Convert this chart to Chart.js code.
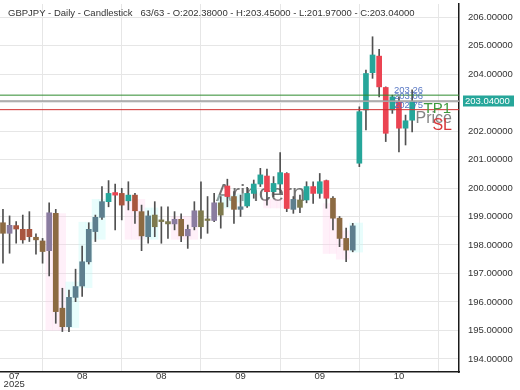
<!DOCTYPE html>
<html><head><meta charset="utf-8">
<script src="https://cdn.jsdelivr.net/npm/chart.js@4.4.1/dist/chart.umd.min.js"></script>
<style>html,body{margin:0;padding:0;background:#fff;overflow:hidden}</style>
</head><body>
<canvas id="c" width="520" height="390" style="width:520px;height:390px;display:block"></canvas>
<script>
// ---------- DATA ----------
const symbol = 'GBPJPY';
const highs  = [199.25,199.02,198.82,199.05,199.17,198.39,198.23,199.48,199.25,196.48,196.42,197.15,197.96,198.78,199.05,200.05,200.26,200.14,199.99,200.22,199.81,199.40,199.20,199.52,199.34,199.34,199.17,199.09,198.70,199.52,200.22,199.70,199.81,199.70,200.31,199.87,199.75,200.02,200.28,200.69,200.66,200.40,201.24,200.54,199.70,199.75,200.22,200.22,200.51,200.28,199.70,199.00,198.59,198.76,202.85,204.14,205.31,204.87,203.55,203.26,203.20,202.56,203.45];
const lows   = [197.36,197.71,198.06,198.06,198.12,197.68,197.36,196.91,195.25,194.96,194.96,196.01,196.19,197.33,198.12,198.90,199.34,198.53,198.88,199.23,198.76,197.80,198.06,198.29,198.06,198.23,198.53,198.12,197.88,198.53,198.23,198.41,198.82,198.59,199.34,198.76,199.00,199.32,199.64,200.05,199.40,199.70,199.81,199.17,199.11,199.13,199.48,199.46,199.64,199.29,198.53,197.94,197.41,197.76,200.75,202.04,203.85,203.20,201.63,202.62,201.27,201.51,201.97];
const opens  = [198.78,198.41,198.68,198.55,198.55,198.27,198.14,197.80,199.11,195.78,195.13,196.16,196.56,197.41,198.47,198.97,199.52,199.84,199.81,199.55,199.75,199.17,198.29,198.64,198.82,198.74,198.74,198.90,198.32,198.64,198.64,198.86,198.86,199.05,200.07,199.70,199.25,199.37,199.81,200.14,200.42,199.87,200.14,200.51,199.25,199.32,199.58,200.05,199.81,200.26,199.64,198.94,198.23,197.82,200.87,202.74,204.05,204.63,203.53,202.74,203.03,202.10,202.38];
const closes = [198.41,198.69,198.56,198.18,198.29,198.18,197.77,199.13,195.66,195.13,196.16,196.54,197.41,198.55,198.97,199.52,199.81,199.75,199.40,199.75,199.20,198.32,199.02,199.05,198.88,198.82,198.90,198.32,198.55,199.20,199.20,198.90,199.48,199.48,199.70,199.25,199.34,199.81,200.14,200.46,199.87,200.16,200.54,199.28,199.60,199.58,200.05,199.81,200.22,199.64,198.94,198.23,197.82,198.67,202.68,204.02,204.67,203.55,201.92,203.20,202.10,202.36,203.04];
// candle state per bar: G up, R down, B brown, D dark red, P purple, S slate, O olive
const states = ['B','P','D','D','D','B','B','P','B','B','S','S','S','S','S','S','G','R','D','G','D','B','S','O','O','O','P','B','P','P','O','O','P','O','R','B','S','G','G','G','R','G','G','R','S','O','G','R','G','R','B','B','B','S','G','G','G','R','R','G','R','G','G'];
// shaded zones: bar index, low, high, kind
const zoneIdx  = [7,8,9,10,11,12,13,14,15,19,20,21,22,23,26,27,28,29,33,34,35,36,37,40,41,42,43,49,50,51,52,53,54];
const zoneLow  = [195.0,195.0,195.0,195.1,195.1,196.5,196.5,198.2,198.2,198.2,198.2,198.2,198.2,198.2,198.2,198.2,198.2,198.2,199.3,199.3,199.3,199.5,199.5,199.3,199.3,199.3,199.3,197.7,197.7,197.5,197.5,197.75,197.75];
const zoneHigh = [199.1,199.1,199.1,196.7,196.7,198.8,198.8,199.6,199.6,199.6,199.6,199.6,199.3,199.3,199.0,199.0,199.0,199.0,199.75,199.75,199.75,199.8,199.8,199.6,199.6,199.6,199.6,199.45,199.45,198.5,198.5,198.77,198.77];
const zoneKind = ['p','p','p','c','c','c','c','c','c','p','p','p','c','c','p','p','p','p','c','c','c','c','c','p','p','p','p','p','p','p','p','c','c'];
// levels
const levelTP = 203.26, levelEntry = 203.06, levelSL = 202.75;
const levelLabels = ['203.26','203.06','202.75'];
// axes
const yTickVals = [194,195,196,197,198,199,200,201,202,203,204,205,206];
const xGridIdx = [0,12,24,36,48,60];
const xLabelIdx = [1.7,12,24,36,48,60];
const xLabels = [['07','2025'],'08','08','09','09','10'];
const X_MIN = -0.45, X_MAX = 69.1, Y_MIN = 193.54, Y_MAX = 206.46;

// ---------- STYLE ----------
const FONT = '"Liberation Sans", Arial, sans-serif';
const stateColors = {G:'#26a69a',R:'#eb4452',B:'#8c6a42',D:'#a8553f',P:'#8a7ca0',S:'#5d7f8e',O:'#7e7a4e'};
const zoneColors = {p:'rgba(255,200,235,0.28)',c:'rgba(195,250,248,0.38)'};

const n = opens.length;
const last = n - 1;
const titleText = `${symbol} - Daily - Candlestick   ${n}/${n} - O:${opens[last].toFixed(5)} - H:${highs[last].toFixed(5)} - L:${lows[last].toFixed(5)} - C:${closes[last].toFixed(5)}`;

const hLine = (v, color, w) => ({
  type:'line', data:[{x:X_MIN,y:v},{x:X_MAX,y:v}], borderColor:color, borderWidth:w,
  pointRadius:0, xAxisID:'x', yAxisID:'y', order:-1
});

const overlay = {
  id:'overlay',
  beforeDatasetsDraw(chart){
    const ctx = chart.ctx;
    ctx.save();
    ctx.font = '24px ' + FONT;
    ctx.fillStyle = 'rgba(80,80,80,0.8)';
    ctx.textBaseline = 'alphabetic';
    ctx.fillText('Arincern', 216, 201);
    ctx.restore();
  },
  afterDraw(chart){
    const ctx = chart.ctx, ys = chart.scales.y;
    ctx.save();
    ctx.font = '9.5px ' + FONT;
    ctx.fillStyle = '#333';
    ctx.textBaseline = 'alphabetic';
    ctx.fillText(titleText, 8, 15.5);
    // level value labels
    ctx.font = '9.5px ' + FONT;
    ctx.fillStyle = 'rgba(70,105,190,0.9)';
    [levelTP, levelEntry, levelSL].forEach((v,i)=>{
      ctx.fillText(levelLabels[i], 394, ys.getPixelForValue(v) - 2);
    });
    ctx.textAlign = 'right';
    ctx.font = '15px ' + FONT;
    ctx.fillStyle = '#3d9a3d';
    ctx.fillText('TP1', 451, 113);
    ctx.font = '16px ' + FONT;
    ctx.fillStyle = 'rgba(110,110,110,0.85)';
    ctx.fillText('Price', 452, 123);
    ctx.fillStyle = '#d8383a';
    ctx.fillText('SL', 452, 129.5);
    // price tag
    const py = ys.getPixelForValue(closes[last]);
    ctx.fillStyle = '#26a69a';
    ctx.fillRect(463, Math.round(py) - 5.5, 51, 11);
    ctx.fillStyle = '#fff';
    ctx.textAlign = 'left';
    ctx.textBaseline = 'middle';
    ctx.font = '9.5px ' + FONT;
    ctx.fillText(closes[last].toFixed(5), 465, Math.round(py) + 0.5);
    ctx.restore();
  }
};

new Chart(document.getElementById('c'), {
  type:'bar',
  data:{
    datasets:[
      hLine(levelTP, '#2e8b2e', 1),
      hLine(levelEntry, '#9a9a9a', 1),
      hLine(closes[last], '#b0b0b0', 1),
      hLine(levelSL, '#d03030', 1),
      { label:'body', data: opens.map((o,i)=>({x:i, y:[o, closes[i]]})),
        backgroundColor: states.map(s=>stateColors[s]), barThickness:5, grouped:false, minBarLength:1.5, order:0 },
      { label:'wick', data: lows.map((l,i)=>({x:i, y:[l, highs[i]]})),
        backgroundColor:'#505050', barThickness:1, grouped:false, order:1 },
      { label:'zone', data: zoneIdx.map((k,i)=>({x:k, y:[zoneLow[i], zoneHigh[i]]})),
        backgroundColor: zoneKind.map(k=>zoneColors[k]), barPercentage:1, categoryPercentage:1, grouped:false, order:2 }
    ]
  },
  options:{
    responsive:false, animation:false, events:[],
    layout:{padding:{top:4,left:0,right:0,bottom:0}},
    plugins:{legend:{display:false}, tooltip:{enabled:false}, title:{display:false}},
    scales:{
      x:{ type:'linear', min:X_MIN, max:X_MAX, offset:false, position:'bottom',
          afterBuildTicks:s=>{ s.ticks = xGridIdx.map(v=>({value:v})); },
          ticks:{display:false}, grid:{color:'#e6e6e6', drawTicks:false},
          border:{color:'#1a1a1a', width:1.5},
          afterFit:s=>{ s.height = 0; s.paddingLeft = 0; s.paddingRight = 0; } },
      x2:{ type:'linear', min:X_MIN, max:X_MAX, offset:false, position:'bottom',
          afterBuildTicks:s=>{ s.ticks = xLabelIdx.map(v=>({value:v})); },
          ticks:{ callback:(v,i)=>xLabels[i], font:{size:9.5, family:FONT, lineHeight:0.85}, color:'#333',
                  maxRotation:0, autoSkip:false, padding:0 },
          grid:{display:false, drawTicks:false}, border:{display:false},
          afterFit:s=>{ s.height = 18; s.paddingLeft = 0; s.paddingRight = 0; } },
      y:{ type:'linear', position:'right', min:Y_MIN, max:Y_MAX,
          afterBuildTicks:s=>{ s.ticks = yTickVals.map(v=>({value:v})); },
          ticks:{ callback:v=>Number(v).toFixed(5), font:{size:9.5, family:FONT}, color:'#333', padding:9 },
          grid:{color:'#e6e6e6', drawTicks:false},
          border:{color:'#1a1a1a', width:1.5},
          afterFit:s=>{ s.width = 61; s.paddingTop = 0; s.paddingBottom = 0; } }
    }
  },
  plugins:[overlay]
});
</script>
</body></html>
